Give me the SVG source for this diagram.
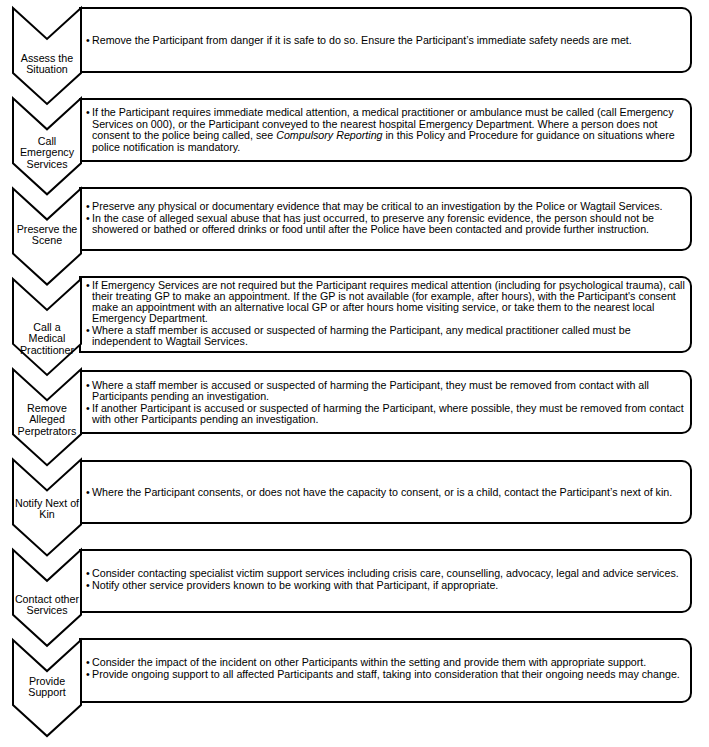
<svg xmlns="http://www.w3.org/2000/svg" width="709" height="747" viewBox="0 0 709 747">
<style>
.shape{fill:#fff;stroke:#000;stroke-width:2;stroke-linejoin:miter}
.lbl{font-family:"Liberation Sans",Arial,sans-serif;font-size:10.7px;text-anchor:middle;fill:#000}
.txt{font-family:"Liberation Sans",Arial,sans-serif;font-size:10.7px;fill:#000}
.it{font-style:italic}
</style>
<rect width="709" height="747" fill="#fff"/>
<g id="connectors"/>
<g id="step1">
<path class="shape" d="M80,8H682A9,9 0 0 1 691,17V63A9,9 0 0 1 682,72H80Z"/>
<path class="shape" d="M13,8L47,39L81,8V73L47,104L13,73Z"/>
<text class="lbl" x="47" y="61.5">Assess the</text>
<text class="lbl" x="47" y="73">Situation</text>
<text class="txt" x="86" y="43.5">•</text>
<text class="txt" x="92" y="43.5">Remove the Participant from danger if it is safe to do so. Ensure the Participant’s immediate safety needs are met.</text>
</g>
<g id="step2">
<path class="shape" d="M80,99H682A9,9 0 0 1 691,108V152A9,9 0 0 1 682,161H80Z"/>
<path class="shape" d="M13,98.3L47,129.3L81,98.3V163.3L47,194.3L13,163.3Z"/>
<text class="lbl" x="47" y="144.5">Call</text>
<text class="lbl" x="47" y="156">Emergency</text>
<text class="lbl" x="47" y="167.5">Services</text>
<text class="txt" x="86" y="116.25">•</text>
<text class="txt" x="92" y="116.25">If the Participant requires immediate medical attention, a medical practitioner or ambulance must be called (call Emergency</text>
<text class="txt" x="92" y="127.75">Services on 000), or the Participant conveyed to the nearest hospital Emergency Department. Where a person does not</text>
<text class="txt" x="92" y="139.25">consent to the police being called, see <tspan class="it">Compulsory Reporting</tspan> in this Policy and Procedure for guidance on situations where</text>
<text class="txt" x="92" y="150.75">police notification is mandatory.</text>
</g>
<g id="step3">
<path class="shape" d="M80,188H682A9,9 0 0 1 691,197V241A9,9 0 0 1 682,250H80Z"/>
<path class="shape" d="M13,188.6L47,219.6L81,188.6V253.6L47,284.6L13,253.6Z"/>
<text class="lbl" x="47" y="232.5">Preserve the</text>
<text class="lbl" x="47" y="244">Scene</text>
<text class="txt" x="86" y="210">•</text>
<text class="txt" x="92" y="210">Preserve any physical or documentary evidence that may be critical to an investigation by the Police or Wagtail Services.</text>
<text class="txt" x="86" y="221.5">•</text>
<text class="txt" x="92" y="221.5">In the case of alleged sexual abuse that has just occurred, to preserve any forensic evidence, the person should not be</text>
<text class="txt" x="92" y="233">showered or bathed or offered drinks or food until after the Police have been contacted and provide further instruction.</text>
</g>
<g id="step4">
<path class="shape" d="M80,277H682A9,9 0 0 1 691,286V343A9,9 0 0 1 682,352H80Z"/>
<path class="shape" d="M13,278.9L47,309.9L81,278.9V343.9L47,374.9L13,343.9Z"/>
<text class="lbl" x="47" y="330.5">Call a</text>
<text class="lbl" x="47" y="342">Medical</text>
<text class="lbl" x="47" y="353.5">Practitioner</text>
<text class="txt" x="86" y="288.5">•</text>
<text class="txt" x="92" y="288.5">If Emergency Services are not required but the Participant requires medical attention (including for psychological trauma), call</text>
<text class="txt" x="92" y="299.8">their treating GP to make an appointment. If the GP is not available (for example, after hours), with the Participant's consent</text>
<text class="txt" x="92" y="311.1">make an appointment with an alternative local GP or after hours home visiting service, or take them to the nearest local</text>
<text class="txt" x="92" y="322.4">Emergency Department.</text>
<text class="txt" x="86" y="333.7">•</text>
<text class="txt" x="92" y="333.7">Where a staff member is accused or suspected of harming the Participant, any medical practitioner called must be</text>
<text class="txt" x="92" y="345">independent to Wagtail Services.</text>
</g>
<g id="step5">
<path class="shape" d="M80,371H682A9,9 0 0 1 691,380V424A9,9 0 0 1 682,433H80Z"/>
<path class="shape" d="M13,369.2L47,400.2L81,369.2V434.2L47,465.2L13,434.2Z"/>
<text class="lbl" x="47" y="411.5">Remove</text>
<text class="lbl" x="47" y="423">Alleged</text>
<text class="lbl" x="47" y="434.5">Perpetrators</text>
<text class="txt" x="86" y="388.5">•</text>
<text class="txt" x="92" y="388.5">Where a staff member is accused or suspected of harming the Participant, they must be removed from contact with all</text>
<text class="txt" x="92" y="400">Participants pending an investigation.</text>
<text class="txt" x="86" y="411.5">•</text>
<text class="txt" x="92" y="411.5">If another Participant is accused or suspected of harming the Participant, where possible, they must be removed from contact</text>
<text class="txt" x="92" y="423">with other Participants pending an investigation.</text>
</g>
<g id="step6">
<path class="shape" d="M80,461H682A9,9 0 0 1 691,470V514A9,9 0 0 1 682,523H80Z"/>
<path class="shape" d="M13,459.5L47,490.5L81,459.5V524.5L47,555.5L13,524.5Z"/>
<text class="lbl" x="47" y="506.5">Notify Next of</text>
<text class="lbl" x="47" y="518">Kin</text>
<text class="txt" x="86" y="495.5">•</text>
<text class="txt" x="92" y="495.5">Where the Participant consents, or does not have the capacity to consent, or is a child, contact the Participant’s next of kin.</text>
</g>
<g id="step7">
<path class="shape" d="M80,550H682A9,9 0 0 1 691,559V603A9,9 0 0 1 682,612H80Z"/>
<path class="shape" d="M13,549.8L47,580.8L81,549.8V614.8L47,645.8L13,614.8Z"/>
<text class="lbl" x="47" y="602.5">Contact other</text>
<text class="lbl" x="47" y="614">Services</text>
<text class="txt" x="86" y="577">•</text>
<text class="txt" x="92" y="577">Consider contacting specialist victim support services including crisis care, counselling, advocacy, legal and advice services.</text>
<text class="txt" x="86" y="588.5">•</text>
<text class="txt" x="92" y="588.5">Notify other service providers known to be working with that Participant, if appropriate.</text>
</g>
<g id="step8">
<path class="shape" d="M80,639H682A9,9 0 0 1 691,648V693A9,9 0 0 1 682,702H80Z"/>
<path class="shape" d="M13,640.1L47,671.1L81,640.1V705.1L47,736.1L13,705.1Z"/>
<text class="lbl" x="47" y="684.5">Provide</text>
<text class="lbl" x="47" y="696">Support</text>
<text class="txt" x="86" y="665.5">•</text>
<text class="txt" x="92" y="665.5">Consider the impact of the incident on other Participants within the setting and provide them with appropriate support.</text>
<text class="txt" x="86" y="677.5">•</text>
<text class="txt" x="92" y="677.5">Provide ongoing support to all affected Participants and staff, taking into consideration that their ongoing needs may change.</text>
</g>
</svg>
